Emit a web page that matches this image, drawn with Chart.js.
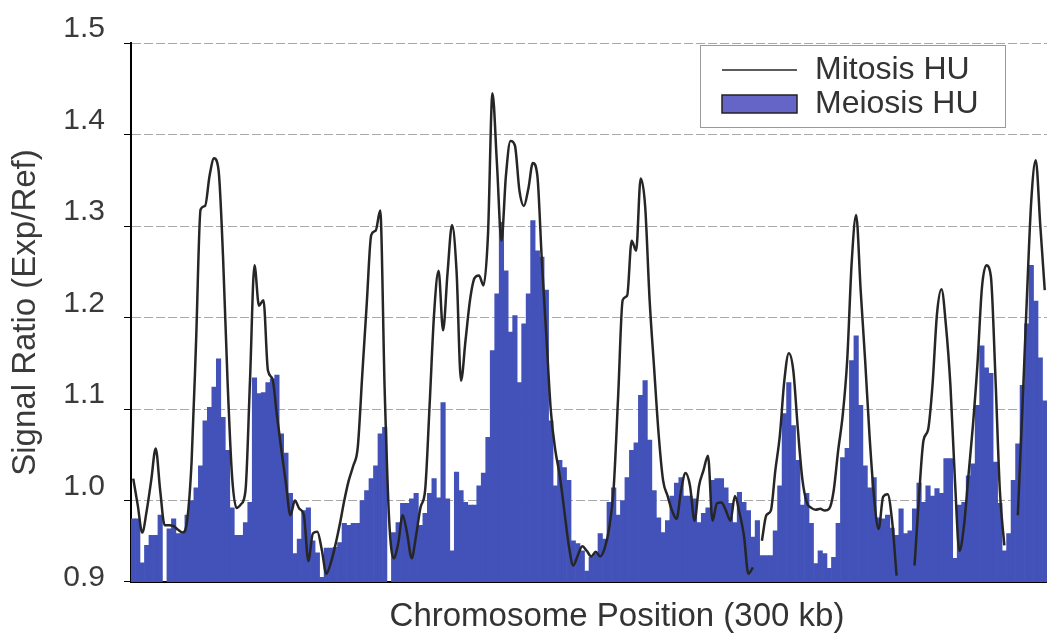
<!DOCTYPE html>
<html>
<head>
<meta charset="utf-8">
<script src="https://cdn.jsdelivr.net/npm/chart.js@4.4.1/dist/chart.umd.min.js"></script>
<style>
  html, body { margin: 0; padding: 0; background: #fff; }
  #wrap { width: 1047px; height: 636px; }
</style>
</head>
<body>
<div id="wrap"><canvas id="myChart"></canvas></div>
<script>
// signal ratio per bin along the chromosome
var mitosisHU = [
  1.024, 0.995, 0.965, 0.989, 1.022, 1.057, 1.011, 0.973, 0.973, 0.972,
  0.968, 0.965, 0.978, 1.043, 1.175, 1.318, 1.322, 1.355, 1.374, 1.361,
  1.266, 1.131, 1.027, 0.992, 0.996, 1.011, 1.131, 1.257, 1.213, 1.219,
  1.142, 1.133, 1.093, 1.055, 1.019, 0.984, 1.000, 0.991, 0.984, 0.934,
  0.964, 0.966, 0.946, 0.920, 0.932, 0.951, 0.974, 1.000, 1.022, 1.038,
  1.058, 1.137, 1.215, 1.290, 1.295, 1.317, 1.120, 0.978, 0.937, 0.953,
  0.984, 0.964, 0.937, 0.962, 0.993, 1.011, 1.104, 1.204, 1.251, 1.186,
  1.249, 1.301, 1.251, 1.131, 1.175, 1.219, 1.243, 1.246, 1.235, 1.290,
  1.445, 1.368, 1.284, 1.355, 1.393, 1.388, 1.339, 1.322, 1.341, 1.369,
  1.355, 1.262, 1.180, 1.098, 1.055, 1.027, 0.989, 0.951, 0.929, 0.940,
  0.950, 0.945, 0.939, 0.944, 0.939, 0.948, 0.970, 1.014, 1.115, 1.219,
  1.224, 1.284, 1.273, 1.352, 1.322, 1.219, 1.145, 1.073, 1.022, 1.005,
  0.989, 0.980, 1.011, 1.030, 1.016, 0.978, 1.016, 1.033, 1.049, 0.978,
  0.997, 0.998, 0.989, 0.978, 1.005, 0.987, 0.962, 0.920, 0.927, null,
  0.956, 0.984, 0.989, 1.033, 1.071, 1.131, 1.161, 1.142, 1.079, 1.024,
  0.998, 0.992, 0.990, 0.991, 0.989, 0.991, 1.011, 1.055, 1.093, 1.153,
  1.260, 1.312, 1.230, 1.153, 1.069, 1.003, 0.969, 1.004, 1.007, 0.978,
  0.918, null, null, null, 0.929, 1.005, 1.066, 1.077, 1.126, 1.204,
  1.231, 1.191, 1.125, 1.022, 0.945, 0.972, 1.027, 1.082, 1.148, 1.232,
  1.257, 1.245, 1.137, 1.011, 0.951, null, null, 0.984, 1.098, 1.219,
  1.328, 1.372, 1.301, 1.230
];

var meiosisHU = [
  0.980, 0.980, 0.932, 0.951, 0.962, 0.962, 0.984, null, 0.969, 0.980,
  0.964, 0.964, 0.984, 1.000, 1.014, 1.038, 1.087, 1.102, 1.124, 1.155,
  1.091, 1.055, 0.992, 0.962, 0.962, 0.976, 0.998, 1.134, 1.117, 1.118,
  1.129, 1.133, 1.137, 1.073, 1.052, 1.008, 0.942, 0.958, 0.989, 0.992,
  0.956, 0.943, 0.916, 0.948, 0.948, 0.949, 0.954, 0.975, 0.973, 0.975,
  0.975, 1.000, 1.011, 1.024, 1.038, 1.073, 1.080, null, 0.965, 0.976,
  0.997, 0.997, 1.002, 1.008, 0.973, 0.986, 1.008, 1.024, 1.003, 1.107,
  1.002, 0.945, 1.031, 1.011, 0.998, 0.995, 0.995, 1.016, 1.030, 1.069,
  1.164, 1.226, 1.304, 1.251, 1.184, 1.202, 1.129, 1.193, 1.226, 1.306,
  1.273, 1.266, 1.230, 1.087, 1.016, 1.044, 1.036, 1.022, 0.956, 0.953,
  0.945, 0.923, 0.938, 0.942, 0.964, 0.958, 0.998, 1.014, 0.984, 1.000,
  1.025, 1.055, 1.063, 1.115, 1.131, 1.066, 1.011, 0.981, 0.965, 0.978,
  1.005, 1.019, 1.025, 1.005, 1.005, 1.002, 0.976, 0.986, 0.992, 1.022,
  1.024, 1.024, 1.014, 0.997, 0.976, 1.009, 0.998, 0.989, 0.960, 0.978,
  0.940, 0.940, 0.940, 0.967, 1.016, 1.095, 1.129, 1.082, 1.044, 0.995,
  1.008, 0.975, 0.931, 0.945, 0.942, 0.926, 0.938, 0.975, 1.047, 1.057,
  1.153, 1.180, 1.104, 1.038, 1.014, 1.025, 0.981, 0.980, 0.984, 0.970,
  0.962, 0.991, 0.964, 0.967, 0.991, 1.019, 0.998, 1.016, 1.005, 1.013,
  1.008, 1.046, 1.046, 0.937, 0.995, 0.998, 1.027, 1.040, 1.104, 1.169,
  1.145, 1.139, 1.042, 0.997, 0.945, 0.964, 1.022, 1.062, 1.126, 1.193,
  1.257, 1.218, 1.156, 1.109
];

var yTicks = [0.9, 1.0, 1.1, 1.2, 1.3, 1.4, 1.5];
var bins = meiosisHU.map(function (v, i) { return i + 1; });

var fontFamily = '"Liberation Sans", Arial, Helvetica, sans-serif';

// boxed legend inside the plot plus the centred x axis caption
var extras = {
  id: 'extras',
  afterDraw: function (chart) {
    var ctx = chart.ctx;
    var ds = chart.data.datasets;
    ctx.save();
    ctx.fillStyle = '#fff';
    ctx.fillRect(700, 45, 305, 82);
    ctx.strokeStyle = '#9a9a9a';
    ctx.lineWidth = 1;
    ctx.strokeRect(700.5, 45.5, 305, 82);

    ctx.strokeStyle = ds[0].borderColor;
    ctx.lineWidth = 1.5;
    ctx.beginPath();
    ctx.moveTo(722, 70);
    ctx.lineTo(797, 70);
    ctx.stroke();

    ctx.fillStyle = '#6565c8';
    ctx.fillRect(722, 95, 75, 18);
    ctx.strokeStyle = '#222';
    ctx.lineWidth = 1.5;
    ctx.strokeRect(722, 95, 75, 18);

    ctx.fillStyle = '#333';
    ctx.font = '32px ' + fontFamily;
    ctx.textBaseline = 'middle';
    ctx.textAlign = 'left';
    ctx.fillText(ds[0].label, 815, 70);
    ctx.fillText(ds[1].label, 815, 104);

    ctx.font = '33px ' + fontFamily;
    ctx.textAlign = 'center';
    ctx.fillText('Chromosome Position (300 kb)', 617, 617);

    // tick mark at the bottom of the value axis
    var y = chart.scales.y;
    ctx.strokeStyle = '#000';
    ctx.lineWidth = 1;
    ctx.beginPath();
    ctx.moveTo(y.right - 7, Math.round(y.bottom) - 0.5);
    ctx.lineTo(y.right, Math.round(y.bottom) - 0.5);
    ctx.stroke();
    ctx.restore();
  }
};

var ctx = document.getElementById('myChart').getContext('2d');
var myChart = new Chart(ctx, {
  type: 'bar',
  data: {
    labels: bins,
    datasets: [{
      type: 'line',
      label: 'Mitosis HU',
      data: mitosisHU,
      borderColor: '#262626',
      borderWidth: 2.5,
      pointRadius: 0,
      cubicInterpolationMode: 'monotone',
      spanGaps: false,
      order: 0
    }, {
      type: 'bar',
      label: 'Meiosis HU',
      data: meiosisHU,
      backgroundColor: '#4252b9',
      borderWidth: 0,
      barPercentage: 1.0,
      categoryPercentage: 1.0,
      order: 1
    }]
  },
  options: {
    responsive: true,
    maintainAspectRatio: false,
    animation: false,
    layout: { padding: { top: 43, right: 0, bottom: 0, left: 0 } },
    plugins: {
      legend: { display: false },
      tooltip: { enabled: false }
    },
    scales: {
      x: {
        offset: true,
        afterFit: function (scale) { scale.height = 54; },
        ticks: { display: false },
        grid: { display: false, drawTicks: false },
        border: { display: true, color: '#000', width: 2 }
      },
      y: {
        min: 0.911,
        max: 1.5,
        bounds: 'data',
        afterBuildTicks: function (scale) {
          scale.ticks = yTicks.map(function (v) { return { value: v }; });
        },
        afterFit: function (scale) { scale.width = 131; },
        ticks: {
          callback: function (v) { return v.toFixed(1); },
          font: { family: fontFamily, size: 30 },
          color: '#3a3a3a',
          padding: 19,
          labelOffset: -14
        },
        grid: {
          color: function (c) { return c.tick && c.tick.value < 0.91 ? 'rgba(0,0,0,0)' : '#a8a8a8'; },
          tickColor: function (c) { return c.tick && c.tick.value < 0.91 ? 'rgba(0,0,0,0)' : '#000'; },
          tickLength: 7,
          lineWidth: 1
        },
        border: { display: true, color: '#000', width: 2, dash: [9, 3] },
        title: {
          display: true,
          text: 'Signal Ratio (Exp/Ref)',
          font: { family: fontFamily, size: 33 },
          color: '#3a3a3a',
          padding: { top: 6, bottom: 0 }
        }
      }
    }
  },
  plugins: [extras]
});
</script>
</body>
</html>
